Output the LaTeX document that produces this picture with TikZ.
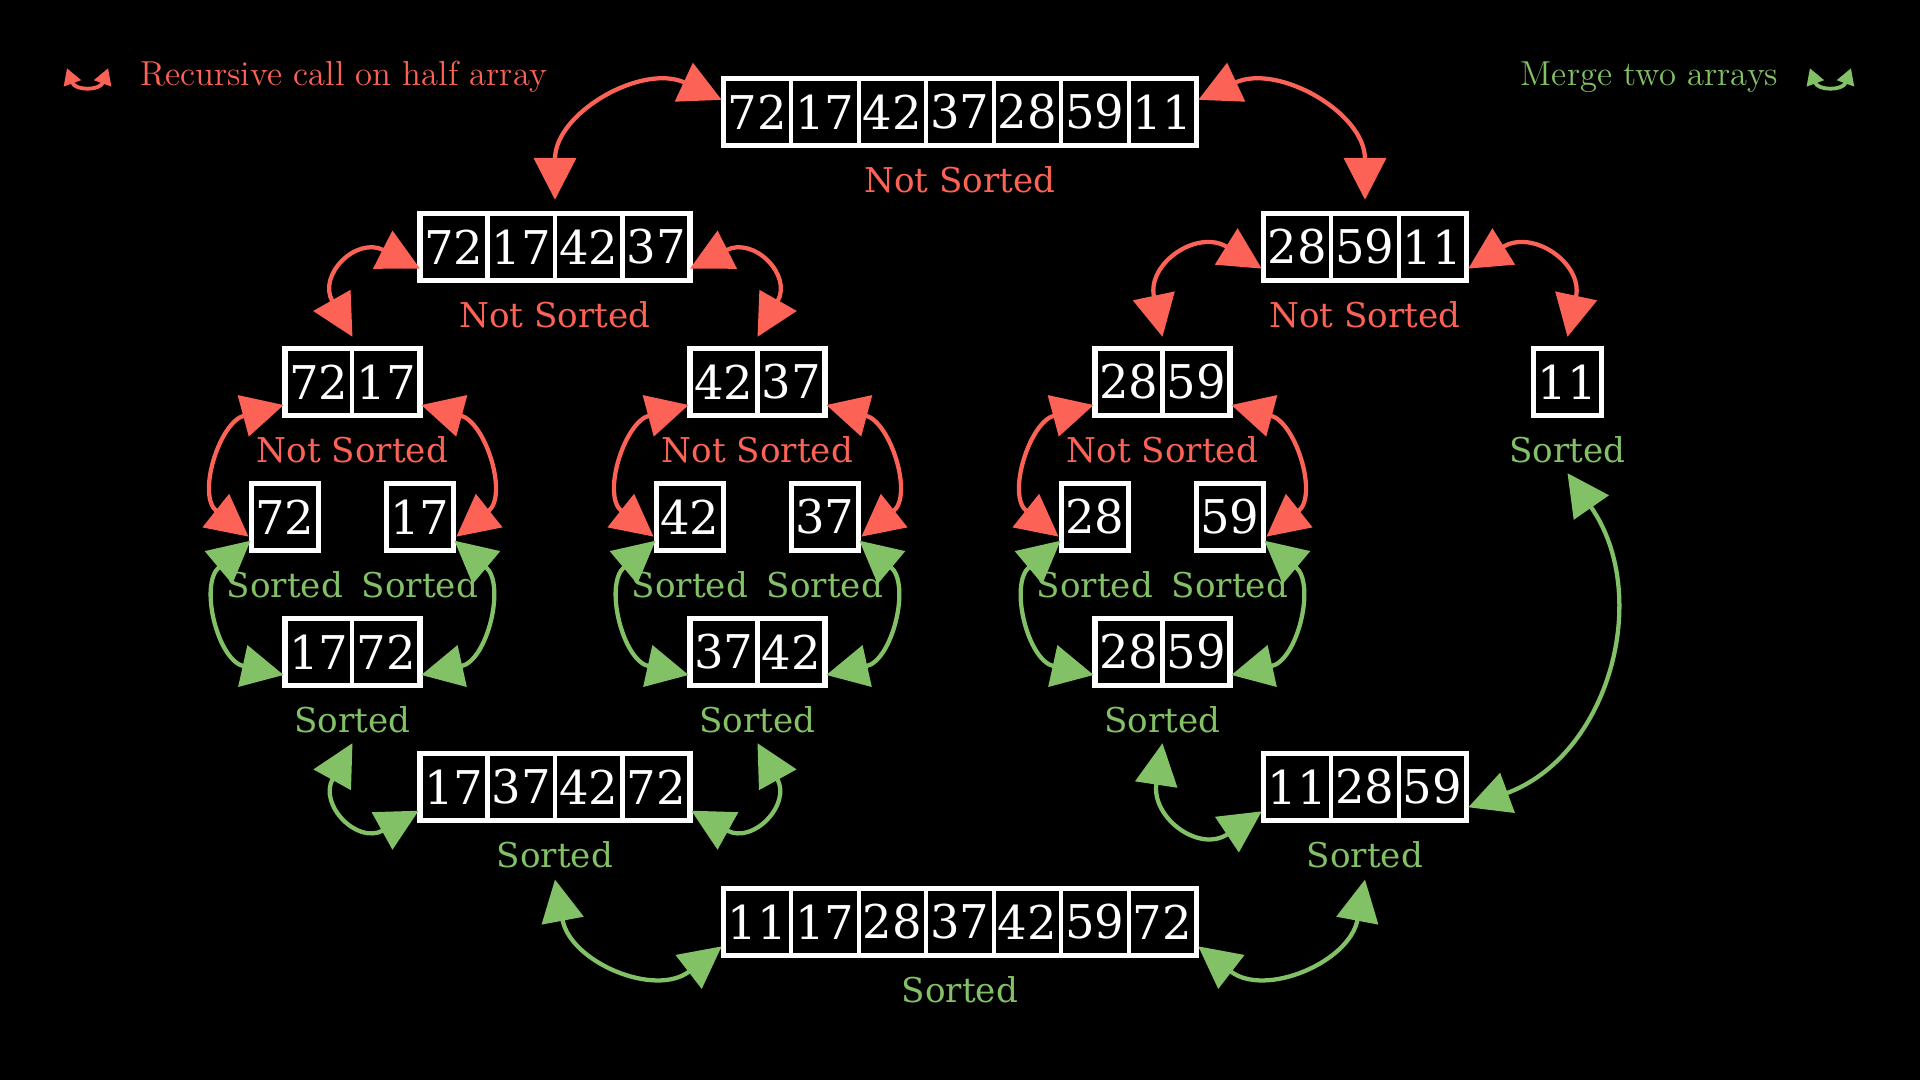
\documentclass[tikz,border=0pt]{standalone}
\usepackage{fontspec}
\usepackage{xcolor}
\usetikzlibrary{arrows.meta}
\newfontfamily\cellfont{DejaVu Serif}
\definecolor{recred}{HTML}{FC6255}
\definecolor{mergegreen}{HTML}{83C167}

% name, centre, number of cells, values
\newcommand{\arr}[4]{%
  \node[arrbox, minimum width=#3cm] (#1) at (#2) {};
  \foreach \v [count=\i] in {#4}
    \node[cell] (#1-\i) at ([xshift={(\i-0.5)*1cm}]#1.west) {\v};
}

\begin{document}
\begin{tikzpicture}[
  cell/.style={draw=white, line width=1.7pt, minimum size=1cm, inner sep=0pt, outer sep=0pt,
    text=white, font=\cellfont\fontsize{19.6}{20}\selectfont},
  arrbox/.style={draw=white, line width=2.2pt, minimum height=1cm, inner sep=0pt, outer sep=0pt},
  ns/.style={text=recred, font=\cellfont\fontsize{14.4}{16}\selectfont},
  so/.style={text=mergegreen, font=\cellfont\fontsize{14.4}{16}\selectfont},
  rec/.style={draw=recred, line width=1.8pt, {Triangle[length=6.2mm,width=6.2mm]}-{Triangle[length=6.2mm,width=6.2mm]}},
  mrg/.style={draw=mergegreen, line width=1.8pt, {Triangle[length=6.2mm,width=6.2mm]}-{Triangle[length=6.2mm,width=6.2mm]}},
  recicon/.style={draw=recred, line width=1.6pt, {Triangle[length=2.4mm,width=2.6mm]}-{Triangle[length=2.4mm,width=2.6mm]}},
  mrgicon/.style={draw=mergegreen, line width=1.6pt, {Triangle[length=2.4mm,width=2.6mm]}-{Triangle[length=2.4mm,width=2.6mm]}},
  legend/.style={inner sep=0pt, font=\fontsize{14.6}{16}\selectfont}
]
\fill[black] (-14.222,-8) rectangle (14.222,8);
\useasboundingbox (-14.222,-8) rectangle (14.222,8);

% arrays
\arr{top}{0,6.34}{7}{72,17,42,37,28,59,11}
\arr{l1a}{-6,4.34}{4}{72,17,42,37}
\arr{l1b}{6,4.34}{3}{28,59,11}
\arr{l2a}{-9,2.34}{2}{72,17}
\arr{l2b}{-3,2.34}{2}{42,37}
\arr{l2c}{3,2.34}{2}{28,59}
\arr{l2d}{9,2.34}{1}{11}
\arr{l3a}{-10,0.34}{1}{72}
\arr{l3b}{-8,0.34}{1}{17}
\arr{l3c}{-4,0.34}{1}{42}
\arr{l3d}{-2,0.34}{1}{37}
\arr{l3e}{2,0.34}{1}{28}
\arr{l3f}{4,0.34}{1}{59}
\arr{l4a}{-9,-1.66}{2}{17,72}
\arr{l4b}{-3,-1.66}{2}{37,42}
\arr{l4c}{3,-1.66}{2}{28,59}
\arr{l5a}{-6,-3.66}{4}{17,37,42,72}
\arr{l5b}{6,-3.66}{3}{11,28,59}
\arr{bot}{0,-5.66}{7}{11,17,28,37,42,59,72}

\foreach \n in {top,l1a,l1b,l2a,l2b,l2c}
  \node[ns] (\n-t) at ([yshift=-1cm]\n.center) {Not Sorted};
\foreach \n in {l2d,l3a,l3b,l3c,l3d,l3e,l3f,l4a,l4b,l4c,l5a,l5b,bot}
  \node[so] (\n-t) at ([yshift=-1cm]\n.center) {Sorted};

% recursive calls
\draw[rec] ([yshift=2mm]l1a.north) to[out=90,in=155,looseness=1.15] ([shift={(-0.3mm,1.8mm)}]top.west);
\draw[rec] ([yshift=2mm]l1b.north) to[out=90,in=25,looseness=1.15] ([shift={(0.3mm,1.8mm)}]top.east);
\draw[rec] ([yshift=1.7mm]l2a.north) to[out=119.5,in=153,looseness=1.9] ([yshift=-3.2mm]l1a.west);
\draw[rec] ([yshift=1.7mm]l2b.north) to[out=60.5,in=27,looseness=1.9] ([yshift=-3.2mm]l1a.east);
\draw[rec] ([yshift=1.7mm]l2c.north) to[out=102,in=148,looseness=1.6] ([shift={(-0.3mm,-3.2mm)}]l1b.west);
\draw[rec] ([yshift=1.7mm]l2d.north) to[out=78,in=32,looseness=1.6] ([shift={(0.3mm,-3.2mm)}]l1b.east);
\foreach \p/\a/\b in {l2a/l3a/l3b, l2b/l3c/l3d, l2c/l3e/l3f} {
  \draw[rec] ([shift={(-0.4mm,-2.9mm)}]\a.west) to[out=141.5,in=195,looseness=1.25] ([shift={(-0.2mm,-3.4mm)}]\p.west);
  \draw[rec] ([shift={(0.4mm,-2.9mm)}]\b.east) to[out=38.5,in=-15,looseness=1.25] ([shift={(0.2mm,-3.4mm)}]\p.east);
}

% merges
\foreach \p/\a/\b in {l4a/l3a/l3b, l4b/l3c/l3d, l4c/l3e/l3f} {
  \draw[mrg] ([shift={(-0.1mm,-3.5mm)}]\a.west) to[out=220,in=167.6,looseness=1.25] ([shift={(-0.2mm,-3.4mm)}]\p.west);
  \draw[mrg] ([shift={(0.1mm,-3.5mm)}]\b.east) to[out=-40,in=12.4,looseness=1.25] ([shift={(0.2mm,-3.4mm)}]\p.east);
}
\draw[mrg] ([yshift=-3.5mm]l4a-t.center) to[out=241,in=209,looseness=1.9] ([shift={(-0.2mm,-3.5mm)}]l5a.west);
\draw[mrg] ([yshift=-3.5mm]l4b-t.center) to[out=299,in=331,looseness=1.9] ([shift={(0.2mm,-3.5mm)}]l5a.east);
\draw[mrg] ([yshift=-3.5mm]l4c-t.center) to[out=261.4,in=213.8,looseness=1.6] ([shift={(-0.3mm,-3.6mm)}]l5b.west);
\draw[mrg] ([yshift=-3.5mm]l2d-t.center) to[out=304.8,in=20.2,looseness=1.1] ([shift={(0.3mm,-3mm)}]l5b.east);
\draw[mrg] ([yshift=-3.7mm]l5a-t.center) to[out=280.6,in=217.7,looseness=1.2] ([shift={(-0.3mm,-3.6mm)}]bot.west);
\draw[mrg] ([yshift=-3.7mm]l5b-t.center) to[out=259.4,in=322.3,looseness=1.2] ([shift={(0.3mm,-3.6mm)}]bot.east);

% legend
\coordinate (ra) at (-13.23,6.99);
\coordinate (rb) at (-12.62,6.99);
\draw[recicon] (ra) to[out=-70,in=250,looseness=1.5] (rb);
\node[legend, anchor=base west, text=recred] (legrec) at (-12.15,6.74) {Recursive call on half array};
\coordinate (ga) at (12.59,6.99);
\coordinate (gb) at (13.2,6.99);
\draw[mrgicon] (ga) to[out=-70,in=250,looseness=1.5] (gb);
\node[legend, anchor=base east, text=mergegreen] (legmrg) at (12.13,6.74) {Merge two arrays};
\end{tikzpicture}
\end{document}
